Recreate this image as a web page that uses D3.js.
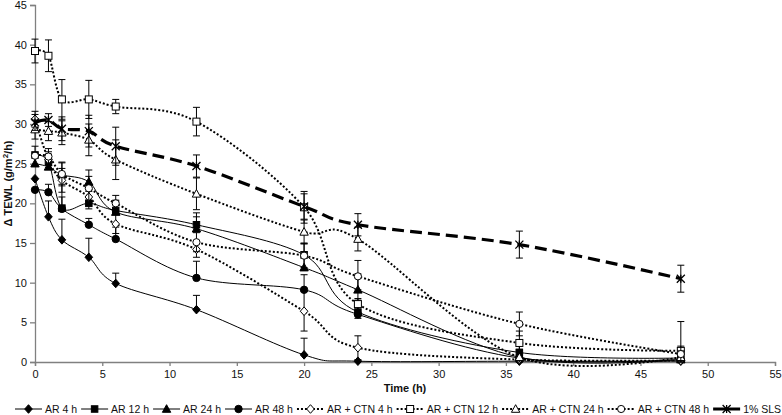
<!DOCTYPE html>
<html>
<head>
<meta charset="utf-8">
<script src="https://cdn.jsdelivr.net/npm/d3@7/dist/d3.min.js"></script>
<style>
  html, body { margin: 0; padding: 0; background: #fff; }
  svg { display: block; font-family: "Liberation Sans", Arial, sans-serif; }
</style>
</head>
<body>
<svg id="chart" width="782" height="415"></svg>
<script>
// ---- Data ----
const times = [0, 1, 2, 4, 6, 12, 20, 24, 36, 48];
const xTicks = [0, 5, 10, 15, 20, 25, 30, 35, 40, 45, 50, 55];
const yTicks = [0, 5, 10, 15, 20, 25, 30, 35, 40, 45];

const seriesNames = ["AR 4 h", "AR 12 h", "AR 24 h", "AR 48 h", "AR + CTN 4 h", "AR + CTN 12 h", "AR + CTN 24 h", "AR + CTN 48 h", "1% SLS"];

const ar4   = [23.1, 18.3, 15.4, 13.2, 9.9, 6.6, 0.9, 0.1, 0.1, 0.1];
const ar12  = [26.1, 25.2, 19.4, 20.0, 19.1, 17.3, 13.5, 6.3, 1.2, 0.5];
const ar24  = [25.0, 24.6, 23.6, 22.7, 18.9, 16.8, 11.9, 9.1, 0.6, 0.3];
const ar48  = [21.7, 21.4, 19.3, 17.3, 15.5, 10.6, 9.1, 6.0, 0.5, 0.3];
const ctn4  = [30.6, 25.5, 22.9, 20.8, 17.4, 14.2, 6.4, 1.8, 0.3, 0.2];
const ctn12 = [39.2, 38.6, 33.1, 33.1, 32.2, 30.3, 19.5, 7.3, 2.4, 1.4];
const ctn24 = [29.3, 29.1, 28.9, 28.0, 25.5, 21.2, 16.4, 15.5, 0.6, 0.6];
const ctn48 = [26.0, 25.9, 23.7, 21.9, 20.0, 15.1, 13.4, 10.8, 4.8, 1.0];
const sls   = [30.2, 30.5, 29.4, 29.1, 27.2, 24.7, 19.6, 17.3, 14.8, 10.5];

// error bar half-widths (solid AR series: upper only)
const ar4Err   = [0, 2.0, 2.6, 2.4, 1.3, 1.8, 2.1, 0, 0, 0];
const ar12Err  = [0, 1.0, 3.0, 1.5, 1.2, 1.5, 1.5, 1.5, 1.0, 1.0];
const ar24Err  = [0, 1.0, 1.5, 1.5, 1.5, 1.5, 2.0, 2.0, 1.0, 1.0];
const ar48Err  = [0, 1.0, 1.5, 0.8, 1.5, 2.1, 1.9, 2.0, 1.0, 1.0];
const ctn4Err  = [1.0, 1.0, 1.5, 1.5, 1.2, 1.0, 2.5, 1.5, 0.5, 0.5];
const ctn12Err = [1.5, 2.0, 2.5, 2.4, 0.9, 1.8, 2.0, 1.8, 1.5, 3.7];
const ctn24Err = [1.2, 1.2, 1.5, 2.0, 2.5, 2.0, 1.5, 1.5, 0.8, 0.8];
const ctn48Err = [1.2, 1.0, 1.5, 1.5, 1.0, 1.2, 1.5, 2.0, 1.5, 1.0];
const slsErr   = [1.0, 0.8, 1.5, 2.0, 2.4, 1.4, 1.6, 1.4, 1.7, 1.7];

// ---- Styles ----
const series = [
  {name: seriesNames[0], v: ar4,   e: ar4Err,   up: true,  style: "solid",  marker: "diamond",  fill: true},
  {name: seriesNames[1], v: ar12,  e: ar12Err,  up: true,  style: "solid",  marker: "square",   fill: true},
  {name: seriesNames[2], v: ar24,  e: ar24Err,  up: true,  style: "solid",  marker: "triangle", fill: true},
  {name: seriesNames[3], v: ar48,  e: ar48Err,  up: true,  style: "solid",  marker: "circle",   fill: true},
  {name: seriesNames[4], v: ctn4,  e: ctn4Err,  up: false, style: "dot",    marker: "diamond",  fill: false},
  {name: seriesNames[5], v: ctn12, e: ctn12Err, up: false, style: "dot",    marker: "square",   fill: false},
  {name: seriesNames[6], v: ctn24, e: ctn24Err, up: false, style: "dot",    marker: "triangle", fill: false},
  {name: seriesNames[7], v: ctn48, e: ctn48Err, up: false, style: "dot",    marker: "circle",   fill: false},
  {name: seriesNames[8], v: sls,   e: slsErr,   up: false, style: "dash",   marker: "star",     fill: true}
];

const svg = d3.select("#chart");
const margin = {left: 35, right: 7, top: 5, bottom: 53};
const W = 782, H = 415;
const x = d3.scaleLinear().domain([0, 55]).range([margin.left, W - margin.right]);
const y = d3.scaleLinear().domain([0, 45]).range([H - margin.bottom, margin.top]);

const axisColor = "#808080";
const textColor = "#111";

// Axes
const yAxis = svg.append("g").attr("transform", `translate(${x(0)},0)`)
  .call(d3.axisLeft(y).tickValues(yTicks).tickSize(5).tickPadding(3).tickFormat(d3.format("d")));
const xAxis = svg.append("g").attr("transform", `translate(0,${y(0)})`)
  .call(d3.axisBottom(x).tickValues(xTicks).tickSize(4).tickPadding(4).tickFormat(d3.format("d")));
[xAxis, yAxis].forEach(g => {
  g.selectAll("path").attr("stroke", axisColor).attr("stroke-width", 1.3);
  g.selectAll("line").attr("stroke", axisColor).attr("stroke-width", 1.3);
  g.selectAll("text").attr("fill", textColor).style("font-size", "11px")
    .style("font-family", '"Liberation Sans", Arial, sans-serif');
});

// Axis titles
svg.append("text").attr("x", (x(0) + x(55)) / 2).attr("y", 392)
  .attr("text-anchor", "middle").style("font-size", "11px").style("font-weight", "bold")
  .attr("fill", textColor).text("Time (h)");
const yl = svg.append("text")
  .attr("transform", `translate(12,${(y(0) + y(45)) / 2}) rotate(-90)`)
  .attr("text-anchor", "middle").style("font-size", "11px").style("font-weight", "bold")
  .attr("fill", textColor);
yl.append("tspan").text("Δ TEWL (g/m");
yl.append("tspan").attr("dy", -4).style("font-size", "8px").text("2");
yl.append("tspan").attr("dy", 4).text("/h)");

// Marker drawing
function drawMarker(g, type, cx, cy, filled) {
  const fill = filled ? "#000" : "#fff";
  const sw = 1;
  if (type === "diamond") {
    g.append("path").attr("d", `M${cx},${cy-4.3}L${cx+3.8},${cy}L${cx},${cy+4.3}L${cx-3.8},${cy}Z`)
      .attr("fill", fill).attr("stroke", "#000").attr("stroke-width", sw);
  } else if (type === "square") {
    const s = filled ? 6.5 : 7;
    g.append("rect").attr("x", cx - s/2).attr("y", cy - s/2).attr("width", s).attr("height", s)
      .attr("fill", fill).attr("stroke", "#000").attr("stroke-width", sw);
  } else if (type === "triangle") {
    g.append("path").attr("d", `M${cx},${cy-4.3}L${cx+4.2},${cy+3.3}L${cx-4.2},${cy+3.3}Z`)
      .attr("fill", fill).attr("stroke", "#000").attr("stroke-width", sw);
  } else if (type === "circle") {
    g.append("circle").attr("cx", cx).attr("cy", cy).attr("r", filled ? 3.7 : 3.6)
      .attr("fill", fill).attr("stroke", "#000").attr("stroke-width", sw);
  } else if (type === "star") {
    const r = 4;
    g.append("path").attr("d", `M${cx-r},${cy-r}L${cx+r},${cy+r}M${cx-r},${cy+r}L${cx+r},${cy-r}M${cx},${cy-r}L${cx},${cy+r}`)
      .attr("stroke", "#000").attr("stroke-width", 1.3).attr("fill", "none");
  }
}

function styleLine(sel, style) {
  if (style === "solid") sel.attr("stroke-width", 1);
  else if (style === "dot") sel.attr("stroke-width", 2).attr("stroke-dasharray", "2,2");
  else if (style === "dash") sel.attr("stroke-width", 3.2).attr("stroke-dasharray", "12,6");
  else sel.attr("stroke-width", 3);
  return sel;
}

const line = d3.line().x(d => x(d[0])).y(d => y(d[1])).curve(d3.curveCardinal.tension(0));
const capW = 3.5;

// Draw series
series.forEach(s => {
  const g = svg.append("g");
  const pts = times.map((t, i) => [t, s.v[i]]);
  const eb = g.append("g").attr("stroke", "#000").attr("stroke-width", 1).attr("fill", "none");
  times.forEach((t, i) => {
    const e = s.e[i];
    if (!e) return;
    const cx = x(t);
    const top = y(s.v[i] + e);
    const bot = s.up ? y(s.v[i]) : y(Math.max(0, s.v[i] - e));
    eb.append("line").attr("x1", cx).attr("x2", cx).attr("y1", top).attr("y2", bot);
    eb.append("line").attr("x1", cx - capW).attr("x2", cx + capW).attr("y1", top).attr("y2", top);
    if (!s.up) eb.append("line").attr("x1", cx - capW).attr("x2", cx + capW).attr("y1", bot).attr("y2", bot);
  });
  styleLine(g.append("path").attr("d", line(pts)).attr("fill", "none").attr("stroke", "#000"), s.style);
  pts.forEach(p => drawMarker(g, s.marker, x(p[0]), y(p[1]), s.fill));
});

// Legend
const lg = svg.append("g").attr("transform", "translate(0,409)");
let lx = 15;
const lineLen = 27;
series.forEach(s => {
  const item = lg.append("g");
  styleLine(item.append("line").attr("x1", lx).attr("x2", lx + lineLen).attr("y1", 0).attr("y2", 0)
    .attr("stroke", "#000"), s.style === "dash" ? "thick" : s.style);
  drawMarker(item, s.marker, lx + lineLen / 2, 0, s.fill);
  const t = item.append("text").attr("x", lx + lineLen + 3).attr("y", 4)
    .style("font-size", "10.5px").attr("fill", textColor).text(s.name);
  lx += lineLen + 3 + t.node().getComputedTextLength() + 4;
});
</script>
</body>
</html>
